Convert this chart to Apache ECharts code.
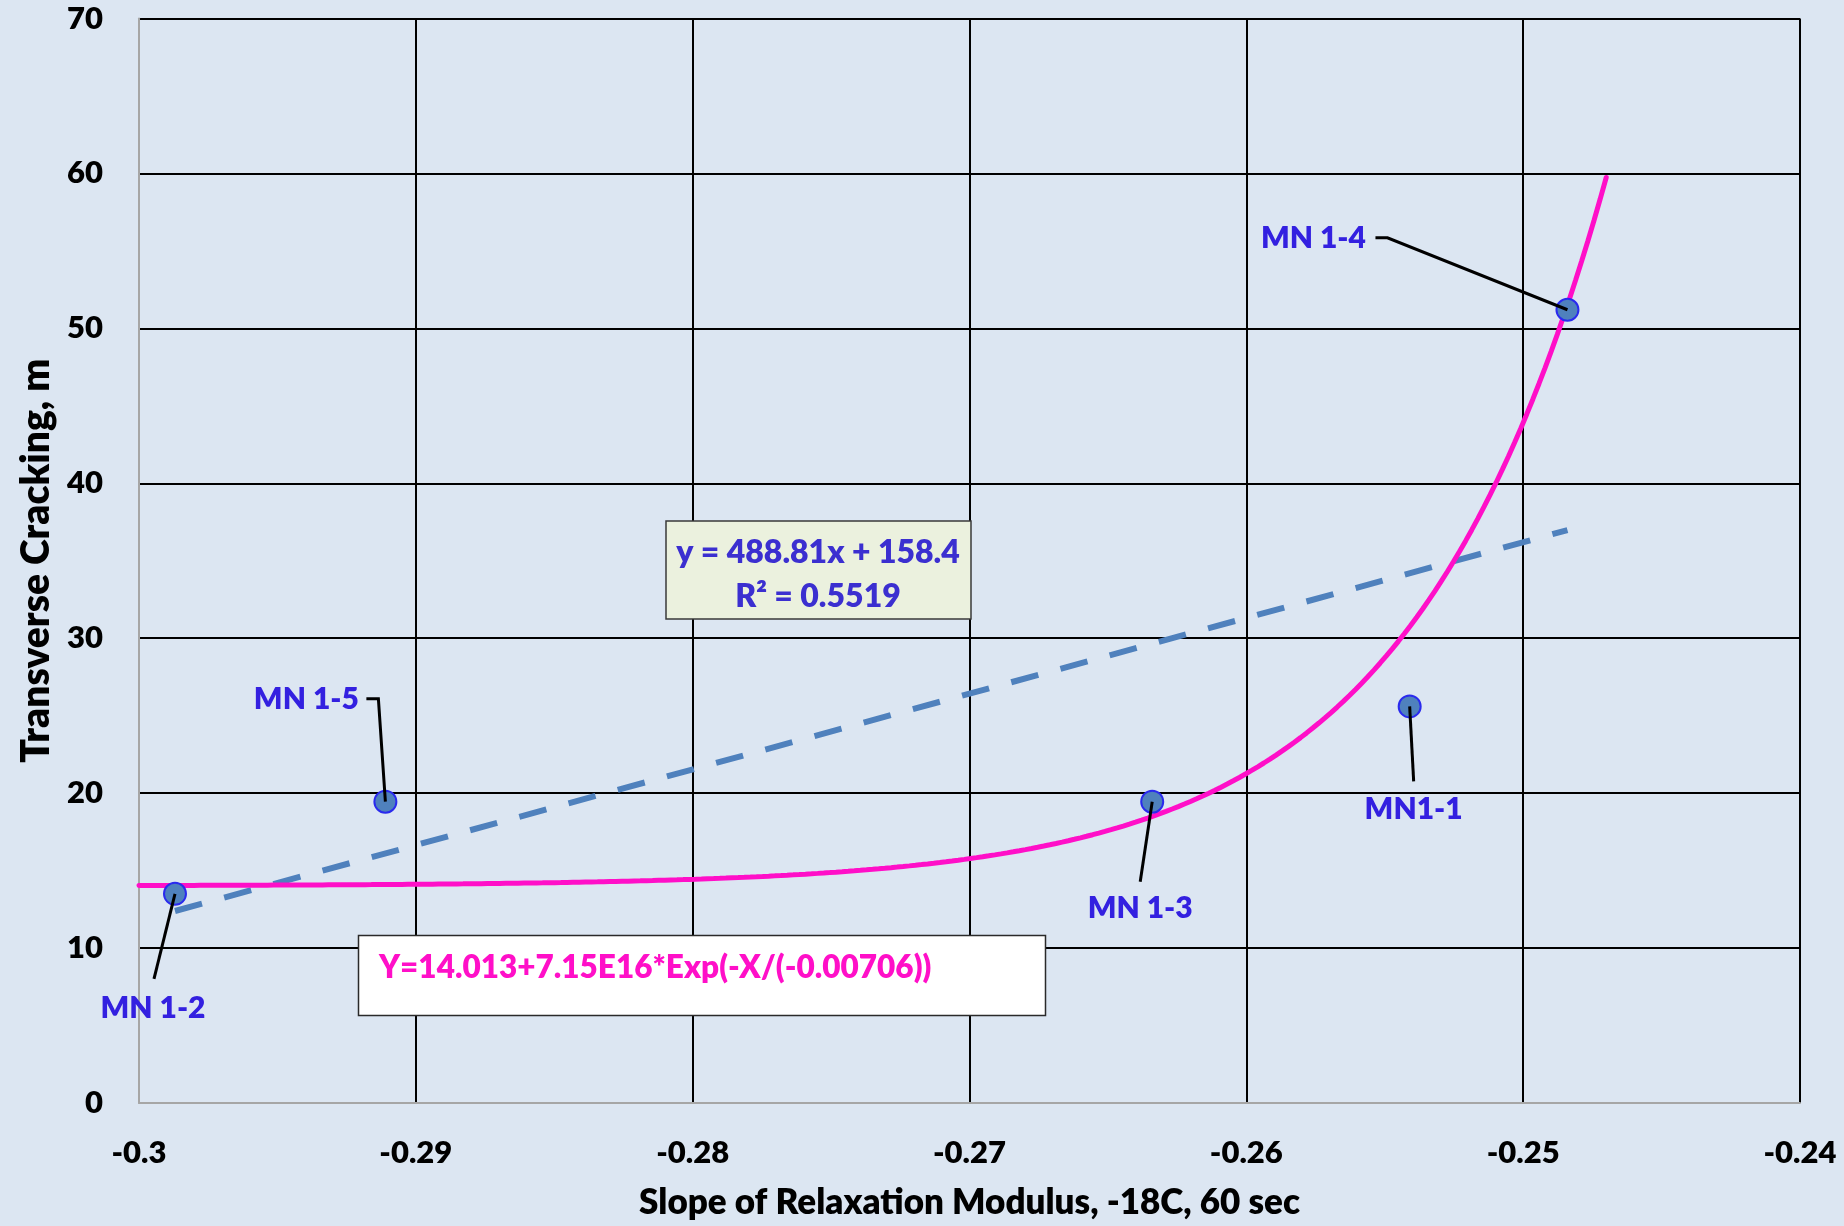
<!DOCTYPE html>
<html>
<head>
<meta charset="utf-8">
<script src="https://cdn.jsdelivr.net/npm/echarts@6/dist/echarts.min.js"></script>
<style>
  html, body { margin: 0; padding: 0; background: #dce6f2; }
  #chart { width: 1844px; height: 1226px; }
</style>
</head>
<body>
<div id="chart"></div>
<script>
// Axis ticks
const xTickValues = [-0.3, -0.29, -0.28, -0.27, -0.26, -0.25, -0.24];
const yTickValues = [0, 10, 20, 30, 40, 50, 60, 70];

// Mixes: slope of relaxation modulus vs transverse cracking
const sampleNames = ['MN 1-2', 'MN 1-5', 'MN 1-3', 'MN1-1', 'MN 1-4'];
const slopeValues = [-0.2987, -0.2911, -0.2634, -0.2541, -0.2484];
const crackingValues = [13.5, 19.45, 19.45, 25.6, 51.2];

// Fitted trends, as reported in the annotation boxes
const linearFit = { slope: 488.81, intercept: 158.4, r2: 0.5519 };
const expFit = { y0: 14.013, a: 7.15e16, t: -0.00706 };
const expFitRange = [-0.3, -0.247];

// Label placement around each point (pixels): label centre, leader path
const labelOffsets = [[-22, 114], [-79, -102], [-12, 107], [4, 103], [-254, -71]];
const leaderPaths = [
  [[0, 0], [-21, 85]],
  [[0, 0], [-7, -103], [-19, -103]],
  [[0, 0], [-12, 80]],
  [[0, 0], [4, 75]],
  [[0, 0], [-180, -72], [-192, -72]]
];

const FONT = 'Lato';
const WEIGHT = 800;
const LABEL_BLUE = '#3320e0';
const PINK = '#ff0fc8';

// Linear trend between the extreme x values
const xMin = Math.min(...slopeValues);
const xMax = Math.max(...slopeValues);
const linearLine = [xMin, xMax].map(x => [x, linearFit.slope * x + linearFit.intercept]);

// Exponential trend curve evaluated from its stated coefficients
const expCurve = [];
const steps = 240;
for (let i = 0; i <= steps; i++) {
  const x = expFitRange[0] + (expFitRange[1] - expFitRange[0]) * i / steps;
  expCurve.push([x, expFit.y0 + expFit.a * Math.exp(-x / expFit.t)]);
}

const fmtX = v => String(+v.toFixed(2));

const chart = echarts.init(document.getElementById('chart'), null, { renderer: 'canvas' });

const option = {
  backgroundColor: '#dce6f2',
  animation: false,
  grid: { left: 139, right: 44, top: 18.5, bottom: 123, containLabel: false },
  xAxis: {
    type: 'value',
    min: xTickValues[0],
    max: xTickValues[xTickValues.length - 1],
    interval: 0.01,
    name: 'Slope of Relaxation Modulus, -18C, 60 sec',
    nameLocation: 'middle',
    nameGap: 82,
    nameTextStyle: { fontFamily: FONT, fontWeight: WEIGHT, fontSize: 35, color: '#000' },
    axisLine: { show: true, onZero: false, lineStyle: { color: '#a6a6a6', width: 2 } },
    axisTick: { show: false },
    axisLabel: {
      margin: 34, fontFamily: FONT, fontWeight: WEIGHT, fontSize: 31, color: '#000',
      formatter: fmtX
    },
    splitLine: { show: true, showMinLine: false, lineStyle: { color: '#000', width: 2 } }
  },
  yAxis: {
    type: 'value',
    min: yTickValues[0],
    max: yTickValues[yTickValues.length - 1],
    interval: 10,
    name: 'Transverse Cracking, m',
    nameLocation: 'middle',
    nameGap: 83,
    nameTextStyle: { fontFamily: FONT, fontWeight: WEIGHT, fontSize: 39, color: '#000' },
    axisLine: { show: true, onZero: false, lineStyle: { color: '#a6a6a6', width: 2 } },
    axisTick: { show: false },
    axisLabel: { margin: 36, fontFamily: FONT, fontWeight: WEIGHT, fontSize: 31, color: '#000' },
    splitLine: { show: true, showMinLine: false, lineStyle: { color: '#000', width: 2 } }
  },
  series: [
    {
      name: 'Linear trend',
      type: 'line',
      data: linearLine,
      showSymbol: false,
      symbol: 'none',
      lineStyle: { color: '#4f81bd', width: 6, type: [28, 23] },
      z: 3
    },
    {
      name: 'Exponential trend',
      type: 'line',
      data: expCurve,
      showSymbol: false,
      symbol: 'none',
      smooth: false,
      lineStyle: { color: PINK, width: 5, cap: 'round' },
      z: 4
    },
    {
      name: 'Mixes',
      type: 'scatter',
      symbol: 'circle',
      symbolSize: 22,
      itemStyle: { color: '#4f81bd', borderColor: '#2a2aee', borderWidth: 2, opacity: 1 },
      data: sampleNames.map((n, i) => ({
        name: n,
        value: [slopeValues[i], crackingValues[i]],
        label: { offset: labelOffsets[i] }
      })),
      label: {
        show: true,
        position: 'inside',
        formatter: '{b}',
        fontFamily: FONT,
        fontWeight: WEIGHT,
        fontSize: 30,
        color: LABEL_BLUE,
        opacity: 1
      },
      z: 5
    }
  ]
};

chart.setOption(option);

// Leader lines from each point to its label
const graphics = [];
sampleNames.forEach((n, i) => {
  const p = chart.convertToPixel({ gridIndex: 0 }, [slopeValues[i], crackingValues[i]]);
  graphics.push({
    type: 'polyline',
    z: 20,
    shape: { points: leaderPaths[i].map(d => [p[0] + d[0], p[1] + d[1]]) },
    style: { stroke: '#000', lineWidth: 3, fill: null }
  });
});

// Linear fit annotation box
graphics.push({
  type: 'rect', z: 15,
  shape: { x: 666, y: 521, width: 305, height: 98 },
  style: { fill: '#ebf1de', stroke: '#3a3a3a', lineWidth: 1.5 }
});
graphics.push({
  type: 'text', z: 16, x: 818, y: 553,
  style: {
    text: 'y = ' + linearFit.slope + 'x + ' + linearFit.intercept,
    font: WEIGHT + ' 32px ' + FONT, fill: '#3b2fd0', align: 'center', verticalAlign: 'middle'
  }
});
graphics.push({
  type: 'text', z: 16, x: 818, y: 597,
  style: {
    text: 'R\u00B2 = ' + linearFit.r2,
    font: WEIGHT + ' 32px ' + FONT, fill: '#3b2fd0', align: 'center', verticalAlign: 'middle'
  }
});

// Exponential fit annotation box
graphics.push({
  type: 'rect', z: 15,
  shape: { x: 358.5, y: 935.5, width: 687, height: 80 },
  style: { fill: '#ffffff', stroke: '#2a2a2a', lineWidth: 1.5 }
});
graphics.push({
  type: 'text', z: 16, x: 379, y: 968,
  style: {
    text: 'Y=' + expFit.y0 + '+7.15E16*Exp(-X/(' + expFit.t + '))',
    font: WEIGHT + ' 31.5px ' + FONT, fill: PINK, align: 'left', verticalAlign: 'middle'
  }
});

chart.setOption({ graphic: graphics });
</script>
</body>
</html>
